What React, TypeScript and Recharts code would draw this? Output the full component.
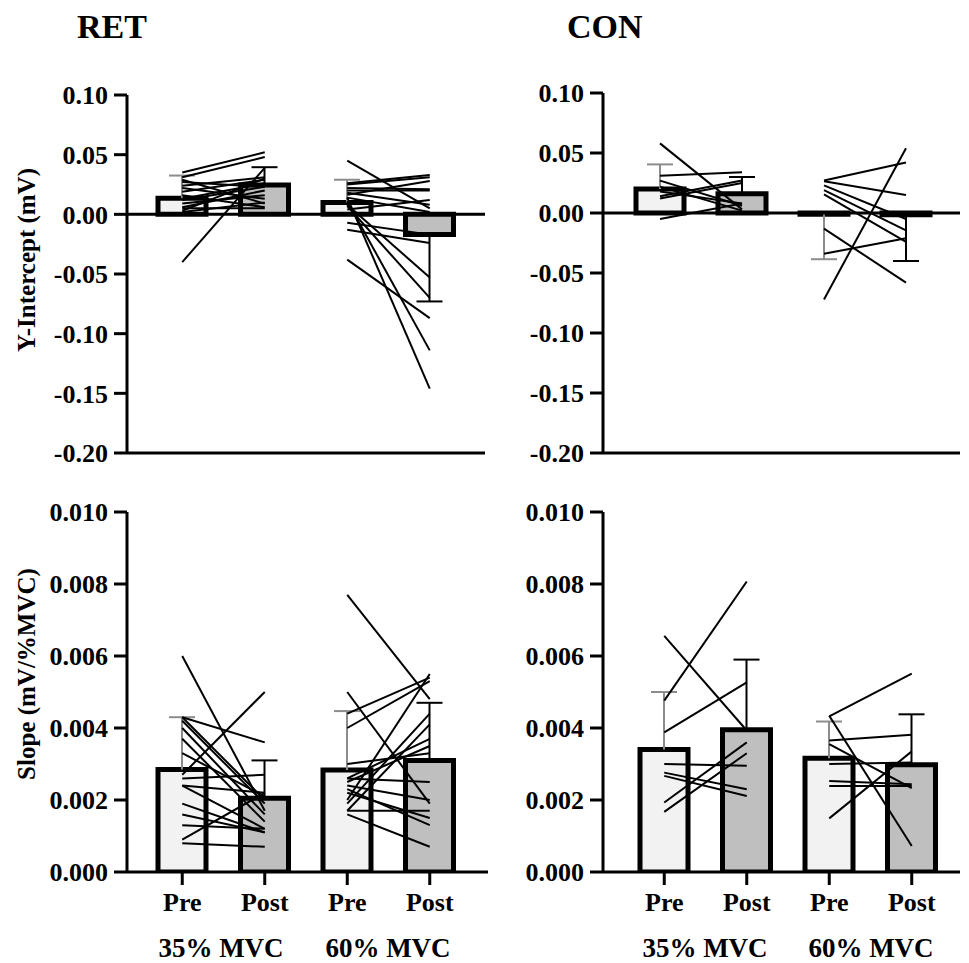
import { ComposedChart, Bar, Cell, Line, XAxis, YAxis, ReferenceLine } from "recharts";

const FONT = "'Liberation Serif', 'Times New Roman', serif";

const categories = ["Pre35", "Post35", "Pre60", "Post60"];
const tickLabels = ["Pre", "Post", "Pre", "Post"];
const groupLabels = ["35% MVC", "60% MVC"];
const barFills = ["#f2f2f2", "#bfbfbf", "#f2f2f2", "#bfbfbf"];
const errColors = ["#8c8c8c", "#000", "#8c8c8c", "#000"];

const interceptTicks = [-0.2, -0.15, -0.1, -0.05, 0, 0.05, 0.1];
const slopeTicks = [0, 0.002, 0.004, 0.006, 0.008, 0.01];

// RET - y-intercept (mV)
const retIntMean = [0.0135, 0.0245, 0.01, -0.017];
const retIntSd = [0.019, 0.015, 0.019, 0.056];
const retIntPre35 = [0.035, 0.031, -0.04, 0.027, 0.024, 0.022, 0.019, 0.016, 0.013, 0.009, 0.006, 0.003, 0.002, 0.029, 0.012, 0.005];
const retIntPost35 = [0.052, 0.048, 0.039, 0.023, 0.031, 0.013, 0.029, 0.006, 0.026, 0.016, 0.02, 0.03, 0.01, 0.009, 0.023, 0.005];
const retIntPre60 = [0.045, 0.026, 0.025, 0.022, 0.02, 0.018, 0.0165, 0.014, 0.008, 0.007, 0.011, 0.014, -0.007, -0.013, -0.038, 0.004];
const retIntPost60 = [0.005, 0.033, 0.031, 0.021, 0.02, 0.008, 0.028, 0.002, -0.053, -0.07, -0.114, -0.146, -0.017, -0.024, -0.087, 0.012];

// CON - y-intercept (mV)
const conIntMean = [0.02, 0.016, -0.001, -0.0015];
const conIntSd = [0.0205, 0.014, 0.0375, 0.0385];
const conIntPre35 = [0.058, 0.031, 0.027, 0.022, 0.018, 0.014, 0.012, -0.005];
const conIntPost35 = [0.003, 0.034, 0.006, 0.002, 0.008, 0.027, 0.025, 0.008];
const conIntPre60 = [0.027, 0.0265, 0.023, 0.019, 0.0155, -0.013, -0.034, -0.072];
const conIntPost60 = [0.042, 0.015, -0.005, -0.0145, -0.024, -0.058, -0.021, 0.054];

// RET - slope (mV/%MVC)
const retSlopeMean = [0.00285, 0.00205, 0.00283, 0.0031];
const retSlopeSd = [0.00145, 0.00105, 0.00164, 0.0016];
const retSlopePre35 = [0.006, 0.0043, 0.0043, 0.0042, 0.004, 0.0037, 0.0033, 0.0027, 0.0026, 0.0024, 0.0024, 0.0019, 0.0016, 0.0013, 0.0009, 0.0008];
const retSlopePost35 = [0.0017, 0.0036, 0.002, 0.0019, 0.0016, 0.0014, 0.0021, 0.005, 0.0027, 0.0022, 0.0012, 0.0011, 0.0011, 0.0012, 0.0022, 0.0007];
const retSlopePre60 = [0.0077, 0.005, 0.0044, 0.004, 0.002, 0.0017, 0.003, 0.0026, 0.0025, 0.0024, 0.0023, 0.0017, 0.0016, 0.0026, 0.0022, 0.0019];
const retSlopePost60 = [0.0048, 0.0019, 0.0054, 0.0053, 0.0055, 0.0041, 0.0033, 0.0037, 0.0035, 0.002, 0.0013, 0.0017, 0.0007, 0.0025, 0.0015, 0.0044];

// CON - slope (mV/%MVC)
const conSlopeMean = [0.0034, 0.00395, 0.00316, 0.00298];
const conSlopeSd = [0.0016, 0.00195, 0.00102, 0.0014];
const conSlopePre35 = [0.00476, 0.00388, 0.00656, 0.003, 0.00276, 0.00267, 0.00193, 0.00167];
const conSlopePost35 = [0.00807, 0.00527, 0.00393, 0.00295, 0.0023, 0.00211, 0.0036, 0.0033];
const conSlopePre60 = [0.00432, 0.00365, 0.00355, 0.00434, 0.003, 0.00253, 0.00239, 0.00149];
const conSlopePost60 = [0.00551, 0.00381, 0.00233, 0.00072, 0.00304, 0.00244, 0.00239, 0.00335];

// one row per category; "sd" is stacked on the mean (away from zero),
// a{j}/b{j} hold each subject's 35% and 60% pair
function buildRows(mean: number[], sd: number[], pre35: number[], post35: number[], pre60: number[], post60: number[]) {
  return categories.map((cat, i) => {
    const row: Record<string, any> = { cat, mean: mean[i], sd: mean[i] >= 0 ? sd[i] : -sd[i] };
    pre35.forEach((v, j) => {
      row[`a${j}`] = i === 0 ? v : i === 1 ? post35[j] : null;
    });
    pre60.forEach((v, j) => {
      row[`b${j}`] = i === 2 ? v : i === 3 ? post60[j] : null;
    });
    return row;
  });
}

// one-sided error whisker: stem over the stacked sd segment, cap at its far end
const Whisker = (props: any) => {
  const { x, y, width, height, index, payload } = props;
  const cx = x + width / 2;
  const top = Math.min(y, y + height);
  const bottom = Math.max(y, y + height);
  const capY = payload.mean >= 0 ? top : bottom;
  const color = errColors[index];
  return (
    <g>
      <line x1={cx} x2={cx} y1={top} y2={bottom} stroke={color} strokeWidth={2} />
      <line x1={cx - 13} x2={cx + 13} y1={capY} y2={capY} stroke={color} strokeWidth={2} />
    </g>
  );
};

const tickFont = { fill: "#000", fontSize: 26, fontWeight: 700, fontFamily: FONT };
const axisStroke = { stroke: "#000", strokeWidth: 3 };

type PanelProps = {
  rows: Record<string, any>[];
  n: number;
  x: number;
  y: number;
  w: number;
  h: number;
  xHeight: number;
  domain: [number, number];
  ticks: number[];
  digits: number;
  pad: { left: number; right: number };
  labels: boolean;
  zero: boolean;
};

const Panel = ({ rows, n, x, y, w, h, xHeight, domain, ticks, digits, pad, labels, zero }: PanelProps) => {
  const idx = Array.from({ length: n }, (_, j) => j);
  return (
    <div style={{ position: "absolute", left: x, top: y }}>
      <ComposedChart width={w} height={h} data={rows} margin={{ top: 20, right: 5, bottom: 0, left: 0 }}>
        <XAxis
          dataKey="cat"
          padding={pad}
          height={xHeight}
          tickSize={13}
          tickMargin={8}
          interval={0}
          axisLine={axisStroke}
          tickLine={axisStroke}
          tick={labels ? tickFont : false}
          tickFormatter={(v) => tickLabels[categories.indexOf(v)]}
        />
        <YAxis
          width={127}
          domain={domain}
          ticks={ticks}
          interval={0}
          tickSize={13}
          tickMargin={6}
          allowDataOverflow
          axisLine={axisStroke}
          tickLine={axisStroke}
          tick={tickFont}
          tickFormatter={(v) => Number(v).toFixed(digits)}
        />
        {zero && <ReferenceLine y={0} stroke="#000" strokeWidth={3} />}
        <Bar dataKey="mean" stackId="s" barSize={48} stroke="#000" strokeWidth={5} isAnimationActive={false}>
          {rows.map((r, i) => (
            <Cell key={r.cat} fill={barFills[i]} />
          ))}
        </Bar>
        <Bar dataKey="sd" stackId="s" barSize={48} shape={Whisker} isAnimationActive={false} />
        {idx.map((j) => (
          <Line key={`a${j}`} dataKey={`a${j}`} stroke="#000" strokeWidth={2} dot={false} activeDot={false} isAnimationActive={false} />
        ))}
        {idx.map((j) => (
          <Line key={`b${j}`} dataKey={`b${j}`} stroke="#000" strokeWidth={2} dot={false} activeDot={false} isAnimationActive={false} />
        ))}
      </ComposedChart>
    </div>
  );
};

const textBase = { position: "absolute" as const, fontFamily: FONT, fontWeight: 700, color: "#000", whiteSpace: "nowrap" as const };

export default function App() {
  const retInt = buildRows(retIntMean, retIntSd, retIntPre35, retIntPost35, retIntPre60, retIntPost60);
  const conInt = buildRows(conIntMean, conIntSd, conIntPre35, conIntPost35, conIntPre60, conIntPost60);
  const retSlope = buildRows(retSlopeMean, retSlopeSd, retSlopePre35, retSlopePost35, retSlopePre60, retSlopePost60);
  const conSlope = buildRows(conSlopeMean, conSlopeSd, conSlopePre35, conSlopePost35, conSlopePre60, conSlopePost60);

  return (
    <div style={{ position: "absolute", left: 0, top: 0, width: 969, height: 963, background: "#fff", overflow: "hidden" }}>
      <Panel rows={retInt} n={retIntPre35.length} x={0} y={75} w={490} h={398} xHeight={20}
        domain={[-0.2, 0.1]} ticks={interceptTicks} digits={2} pad={{ left: 14, right: 14 }} labels={false} zero />
      <Panel rows={conInt} n={conIntPre35.length} x={476} y={73} w={489} h={400} xHeight={20}
        domain={[-0.2, 0.1]} ticks={interceptTicks} digits={2} pad={{ left: 16, right: 13 }} labels={false} zero />
      <Panel rows={retSlope} n={retSlopePre35.length} x={0} y={492} w={493} h={430} xHeight={50}
        domain={[0, 0.01]} ticks={slopeTicks} digits={3} pad={{ left: 14, right: 17 }} labels zero={false} />
      <Panel rows={conSlope} n={conSlopePre35.length} x={476} y={492} w={489} h={430} xHeight={50}
        domain={[0, 0.01]} ticks={slopeTicks} digits={3} pad={{ left: 20, right: 7 }} labels zero={false} />

      <div style={{ ...textBase, left: 77, top: 10, fontSize: 34, lineHeight: "34px" }}>RET</div>
      <div style={{ ...textBase, left: 567, top: 10, fontSize: 34, lineHeight: "34px" }}>CON</div>

      <div style={{ ...textBase, left: 27, top: 260, fontSize: 25, transform: "translate(-50%, -50%) rotate(-90deg)" }}>
        Y-Intercept (mV)
      </div>
      <div style={{ ...textBase, left: 27, top: 674, fontSize: 25, transform: "translate(-50%, -50%) rotate(-90deg)" }}>
        Slope (mV/%MVC)
      </div>

      {[221, 388, 705, 871].map((cx, i) => (
        <div key={cx} style={{ ...textBase, left: cx, top: 935, fontSize: 27, lineHeight: "27px", transform: "translateX(-50%)" }}>
          {groupLabels[i % 2]}
        </div>
      ))}
    </div>
  );
}
